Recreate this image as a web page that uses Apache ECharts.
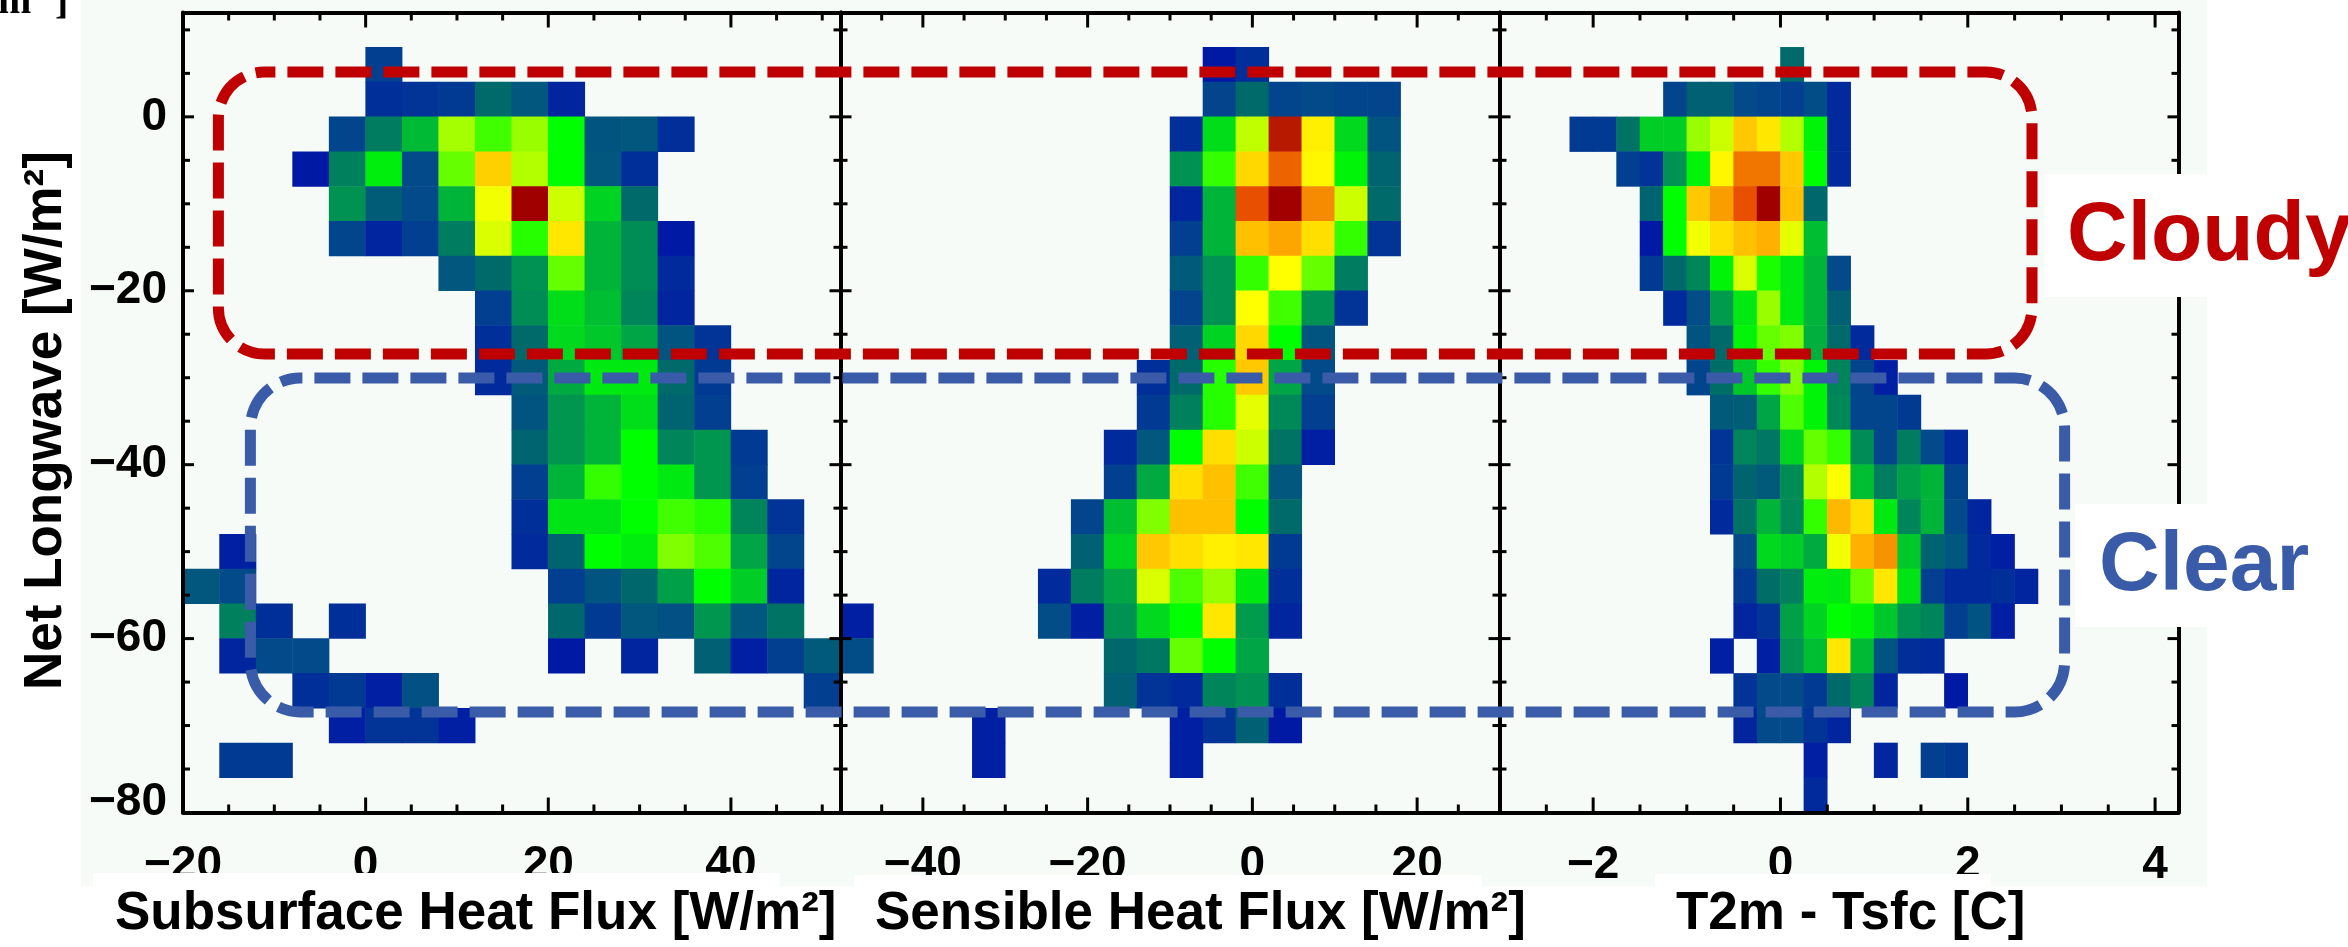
<!DOCTYPE html>
<html><head><meta charset="utf-8">
<style>html,body{margin:0;padding:0;background:#fff}#c{width:2348px;height:947px}</style>
<script src="https://cdn.jsdelivr.net/npm/echarts@6/dist/echarts.min.js"></script>
</head><body><div id="c"></div>
<script>
// Row r covers Net Longwave from 8-4r down to 4-4r. Each entry: [first column, values...]
const subsurfaceRows = [
 [5,8],
 [5,5,6,7,20,14,3],
 [4,9,24,37,63,55,62,50,13,14,5],
 [3,1,25,47,10,58,76,64,50,14,5],
 [4,29,16,10,36,69,100,66,42,20],
 [4,9,3,8,24,67,53,73,36,28,1],
 [7,14,20,29,58,36,28,4],
 [8,8,28,44,38,26,3],
 [8,5,20,43,40,33,13,6],
 [8,4,15,34,46,46,20,7],
 [9,13,30,36,44,18,8],
 [9,18,30,36,50,26,30,7],
 [9,8,36,54,50,46,30,8],
 [9,5,45,45,50,55,53,26,6],
 [1,2,null,null,null,null,null,null,null,4,18,50,47,60,56,33,9],
 [0,14,10,null,null,null,null,null,null,null,null,8,13,19,32,50,41,3],
 [1,25,5,null,5,null,null,null,null,null,19,7,14,12,30,14,22],
 [1,3,10,10,null,null,null,null,null,null,1,null,3,null,17,2,8,15],
 [3,5,7,2,12,null,null,null,null,null,null,null,null,null,null,8],
 [4,2,6,6,2],
 [1,7,7],
 [0]
];
const sensibleRows = [
 [11,1,5],
 [11,9,20,9,10,9,9],
 [10,5,44,65,97,72,43,13],
 [10,29,54,75,88,71,48,18],
 [10,3,36,90,100,84,66,20],
 [10,8,36,78,81,74,54,6],
 [10,15,29,54,70,58,24],
 [10,9,29,70,55,29,6],
 [10,17,42,75,50,13],
 [9,5,20,53,77,33,10],
 [9,7,25,53,68,27,8],
 [8,4,14,50,74,66,22,2],
 [8,8,34,74,78,55,14],
 [7,9,38,60,78,78,50,20],
 [7,17,42,77,74,72,73,7],
 [6,4,24,33,67,56,62,46,5],
 [0,2,null,null,null,null,null,11,2,29,43,50,73,31,3],
 [0,11,null,null,null,null,null,null,null,19,23,58,50,33],
 [8,17,6,4,26,29,5],
 [4,2,null,null,null,null,null,2,6,17,1],
 [4,2,null,null,null,null,null,2],
 [0]
];
const t2mRows = [
 [12,20],
 [7,9,17,17,10,9,8,11,4],
 [3,7,7,22,41,41,62,66,77,73,64,48,4],
 [5,8,6,29,48,71,86,86,77,50,4],
 [6,18,50,77,82,90,100,78,19],
 [6,1,50,69,74,78,80,68,38],
 [6,7,20,26,48,67,52,46,36,10],
 [7,4,11,31,46,62,46,36,17],
 [8,13,20,48,58,60,35,20,4],
 [8,9,21,40,54,60,48,26,9,2],
 [9,15,16,33,56,48,27,9,9,7],
 [9,6,26,23,42,58,54,28,9,24,10,4],
 [9,7,18,15,28,64,70,38,24,32,36,9],
 [9,4,22,36,27,54,79,74,46,26,36,10,3],
 [10,10,43,41,34,69,80,83,40,18,14,4,2],
 [10,7,21,25,47,46,58,73,45,8,4,4,5,3],
 [10,3,6,32,42,50,48,40,29,26,8,13,2],
 [9,2,null,2,29,38,73,37,13,5,4],
 [10,6,10,10,7,20,26,3,null,null,1],
 [10,3,10,10,6,3],
 [13,2,null,null,3,null,8,7],
 [13,4]
];
const colorScale = ['#0014a8','#024a8a','#006a6a','#009650','#00c82a','#00ff00','#80ff00','#ffff00','#ffb000','#e85000','#a00000'];
const yMajor = [0,-20,-40,-60,-80];
const yMinor = [10,5,-5,-10,-15,-25,-30,-35,-45,-50,-55,-65,-70,-75];
const panels = [
 {title:'Subsurface Heat Flux [W/m²]',rows:subsurfaceRows,min:-20,max:52,cells:18,major:[-20,0,20,40],minor:[-15,-10,-5,5,10,15,25,30,35,45,50],left:183,right:840.5},
 {title:'Sensible Heat Flux [W/m²]',rows:sensibleRows,min:-50,max:30,cells:20,major:[-40,-20,0,20],minor:[-45,-35,-30,-25,-15,-10,-5,5,10,15,25],left:840.5,right:1499.5},
 {title:'T2m - Tsfc [C]',rows:t2mRows,min:-3,max:4.25,cells:29,major:[-2,0,2,4],minor:[-2.5,-1.5,-1,-0.5,0.5,1,1.5,2.5,3,3.5],left:1499.5,right:2178.5}
];
const TOP=12.5,BOTTOM=812.5,W=2348,H=947;
const Y_MIN=-80,Y_MAX=12;
const font='"Liberation Sans"';
const grid=[],xAxis=[],yAxis=[],heatSeries=[],scaleAxis=[];
const minus=v=>String(v).replace('-','\u2212');
const tickStyle={fontFamily:font,fontSize:46,fontWeight:'bold',color:'#000'};
const line={show:true,onZero:false,lineStyle:{color:'#000',width:4}};
panels.forEach((p,i)=>{
  const rect={left:p.left,width:p.right-p.left,top:TOP,height:BOTTOM-TOP};
  // the cells live on their own band axes; the value axes of the same size carry the scale
  const heat=grid.length; grid.push({...rect});
  xAxis.push({type:'category',gridIndex:heat,show:false,data:[...Array(p.cells).keys()]});
  yAxis.push({type:'category',gridIndex:heat,show:false,data:[...Array(23).keys()]});
  const data=[];
  p.rows.forEach((row,r)=>{
    for(let k=1;k<row.length;k++){ if(row[k]!==null) data.push([row[0]+k-1,21-r,row[k]]); }
  });
  heatSeries.push({type:'heatmap',xAxisIndex:heat,yAxisIndex:heat,data,z:2,itemStyle:{borderWidth:0},progressive:0,animation:false,emphasis:{disabled:true}});
  const g=grid.length; grid.push({...rect}); scaleAxis.push(g);
  xAxis.push({type:'value',gridIndex:g,position:'bottom',min:p.min,max:p.max,z:5,splitLine:{show:false},axisLine:line,axisTick:{show:false},
    axisLabel:{show:true,customValues:p.major,margin:30,formatter:minus,...tickStyle}});
  yAxis.push({type:'value',gridIndex:g,position:'left',min:Y_MIN,max:Y_MAX,z:5,splitLine:{show:false},axisLine:line,axisTick:{show:false},
    axisLabel:i===0?{show:true,customValues:yMajor,margin:16,...tickStyle,
      formatter:v=>v===-80?'{low|'+minus(v)+'}':minus(v),rich:{low:{...tickStyle,padding:[0,0,20,0]}}}:{show:false}});
  const h=grid.length; grid.push({...rect});
  xAxis.push({type:'value',gridIndex:h,position:'top',min:p.min,max:p.max,z:5,splitLine:{show:false},axisLine:line,axisTick:{show:false},axisLabel:{show:false}});
  yAxis.push({type:'value',gridIndex:h,position:'right',min:Y_MIN,max:Y_MAX,z:5,splitLine:{show:false},axisLine:line,axisTick:{show:false},axisLabel:{show:false}});
});
const rrect=(x0,y0,x1,y1,r,color,offset)=>({type:'rect',z:20,shape:{x:x0,y:y0,width:x1-x0,height:y1-y0,r},
  style:{fill:'none',stroke:color,lineWidth:11,lineDash:[36,12],lineDashOffset:offset}});
const patch=(x,y,w,h,fill,z)=>({type:'rect',z,shape:{x,y,width:w,height:h},style:{fill}});
// baseline is given; middle-anchored text sits about 0.36 of its size above the baseline
const label=(text,x,base,size,color,family)=>({type:'text',z:30,x:x,y:base-size*0.36,style:{text,fontFamily:family||font,fontWeight:'bold',fontSize:size,fill:color,align:'left',verticalAlign:'middle'}});
const graphic=[
 patch(81,0,2126,886,'#f6fbf7',-10),
 patch(93,873,687,74,'#fff',14),
 patch(854,875,628,72,'#fff',14),
 patch(1655,874,336,73,'#fff',14),
 patch(2044,174,304,123,'#fff',14),
 patch(2075,504,273,123,'#fff',14),
 rrect(218.4,72,2032,354,46,'#c00000',25),
 rrect(250.4,378,2064.6,712,50,'#3a5ca8',34),
 label('Cloudy',2067,267,84,'#c00000'),
 label('Clear',2099,597,84,'#3a5ca8'),
 label(panels[0].title,115,933,53,'#000'),
 label(panels[1].title,875,933,53,'#000'),
 label(panels[2].title,1676,933,53,'#000'),
 Object.assign(label('Net Longwave [W/m²]',0,0,53,'#000'),{x:46,y:690,rotation:Math.PI/2}),
 label('m',-2,17,40,'#000','"Liberation Serif"'),
 label(']',55,17,40,'#000','"Liberation Serif"')
];
const chart=echarts.init(document.getElementById('c'),null,{renderer:'canvas',width:W,height:H});
chart.setOption({animation:false,backgroundColor:'#fff',grid,xAxis,yAxis,series:heatSeries,graphic,
  visualMap:{show:false,type:'continuous',min:0,max:100,dimension:2,seriesIndex:[0,1,2],inRange:{color:colorScale}}});
// tick marks placed through the axes' own scales, as thin filled bars
const tickMarks=[];
panels.forEach((p,i)=>{
  const finder={xAxisIndex:scaleAxis[i],yAxisIndex:scaleAxis[i]};
  const mark=(x,y,dx,dy)=>{
    const q=chart.convertToPixel(finder,[x,y]);
    const w=dx===0?3:Math.abs(dx), h=dy===0?3:Math.abs(dy);
    const left=dx===0?q[0]-1.5:Math.min(q[0],q[0]+dx), top=dy===0?q[1]-1.5:Math.min(q[1],q[1]+dy);
    tickMarks.push(patch(left,top,w,h,'#000',13));
  };
  p.major.forEach(v=>{mark(v,Y_MIN,0,-15);mark(v,Y_MAX,0,15);});
  p.minor.forEach(v=>{mark(v,Y_MIN,0,-8);mark(v,Y_MAX,0,8);});
  yMajor.forEach(v=>{mark(p.min,v,11,0);mark(p.max,v,-11,0);});
  yMinor.forEach(v=>{mark(p.min,v,7,0);mark(p.max,v,-7,0);});
});
chart.setOption({graphic:graphic.concat(tickMarks)});
</script></body></html>
